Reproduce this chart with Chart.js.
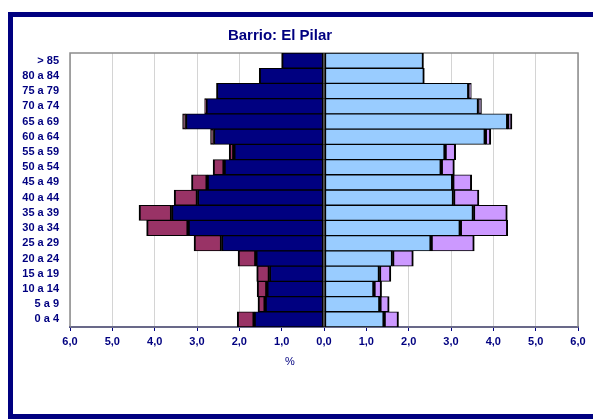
<!DOCTYPE html>
<html>
<head>
<meta charset="utf-8">
<script src="https://cdn.jsdelivr.net/npm/chart.js@4/dist/chart.umd.min.js"></script>
<style>
    body { margin: 0; background: #fff; }
    #marco { position: absolute; left: 8px; top: 12px; width: 600px; height: 407px; box-sizing: border-box; border: 5px solid #000080; }
    #wrap { position: absolute; left: 0; top: 0; width: 593px; height: 419px; }
</style>
</head>
<body>
<div id="marco"></div>
<div id="wrap"><canvas id="piramide" width="593" height="419"></canvas></div>
<script>
const edades = ["> 85", "80 a 84", "75 a 79", "70 a 74", "65 a 69", "60 a 64", "55 a 59", "50 a 54", "45 a 49",
    "40 a 44", "35 a 39", "30 a 34", "25 a 29", "20 a 24", "15 a 19", "10 a 14", "5 a 9", "0 a 4"];

// lado izquierdo (se dibuja en negativo)
const izqEspanoles = [1.00, 1.53, 2.54, 2.79, 3.27, 2.61, 2.13, 2.36, 2.76, 2.99, 3.60, 3.21, 2.42, 1.61, 1.29, 1.35, 1.39, 1.65];
const izqExtranjeros = [0, 0, 0, 0.03, 0.07, 0.07, 0.11, 0.26, 0.37, 0.55, 0.77, 0.98, 0.65, 0.42, 0.30, 0.23, 0.17, 0.40];
// lado derecho
const derEspanoles = [2.35, 2.37, 3.42, 3.65, 4.34, 3.81, 2.86, 2.77, 3.04, 3.06, 3.53, 3.22, 2.53, 1.62, 1.31, 1.18, 1.32, 1.42];
const derExtranjeros = [0, 0, 0.06, 0.07, 0.10, 0.13, 0.25, 0.31, 0.45, 0.60, 0.80, 1.12, 1.02, 0.49, 0.27, 0.18, 0.22, 0.34];

const ticksX = [-6, -5, -4, -3, -2, -1, 0, 1, 2, 3, 4, 5, 6];

const navy = "#000080";
const fuente = "'Liberation Sans', Arial, sans-serif";

const marcoPlot = {
    id: "marcoPlot",
    beforeDatasetsDraw(chart) {
        const a = chart.chartArea;
        const ctx = chart.ctx;
        ctx.save();
        ctx.strokeStyle = "#8c8c8c";
        ctx.lineWidth = 1.5;
        ctx.strokeRect(a.left, a.top, a.right - a.left, a.bottom - a.top);
        ctx.restore();
    },
    afterDraw(chart) {
        const ctx = chart.ctx;
        ctx.save();
        ctx.fillStyle = navy;
        ctx.textAlign = "center";
        ctx.textBaseline = "middle";
        ctx.font = "bold 15px " + fuente;
        ctx.fillText("Barrio: El Pilar", 280, 36);
        ctx.font = "11px " + fuente;
        ctx.fillText("%", 290, 362);
        ctx.restore();
    }
};

function barra(label, datos, color) {
    return {
        label: label,
        data: datos,
        backgroundColor: color,
        borderColor: "#000",
        borderWidth: { top: 1, bottom: 1, left: 2, right: 2 },
        borderSkipped: false,
        barPercentage: 1,
        categoryPercentage: 1
    };
}

new Chart(document.getElementById("piramide"), {
    type: "bar",
    data: {
        labels: edades,
        datasets: [
            barra("Izq. españoles", izqEspanoles.map(v => -v), navy),
            barra("Izq. extranjeros", izqExtranjeros.map(v => -v), "#993366"),
            barra("Der. españoles", derEspanoles, "#99CCFF"),
            barra("Der. extranjeros", derExtranjeros, "#CC99FF")
        ]
    },
    plugins: [marcoPlot],
    options: {
        indexAxis: "y",
        responsive: false,
        animation: false,
        layout: { padding: { left: 0, right: 15, top: 53, bottom: 47 } },
        plugins: {
            legend: { display: false },
            tooltip: { enabled: false },
            title: { display: false }
        },
        scales: {
            x: {
                stacked: true,
                min: -6,
                max: 6,
                afterBuildTicks: (s) => { s.ticks = ticksX.map(v => ({ value: v })); },
                afterFit: (s) => { s.height = 45; },
                border: { color: navy, width: 2 },
                grid: { color: "#d4d4d4", tickColor: navy, tickLength: 4, lineWidth: 1 },
                ticks: {
                    color: navy,
                    padding: 4,
                    maxRotation: 0,
                    font: { family: fuente, size: 11, weight: "bold" },
                    callback: (v) => Math.abs(v).toFixed(1).replace(".", ",")
                }
            },
            y: {
                stacked: true,
                afterFit: (s) => { s.width = 70; },
                border: { display: false },
                grid: { display: false, drawTicks: false },
                ticks: {
                    color: navy,
                    padding: 11,
                    autoSkip: false,
                    font: { family: fuente, size: 11, weight: "bold" }
                }
            }
        }
    }
});
</script>
</body>
</html>
